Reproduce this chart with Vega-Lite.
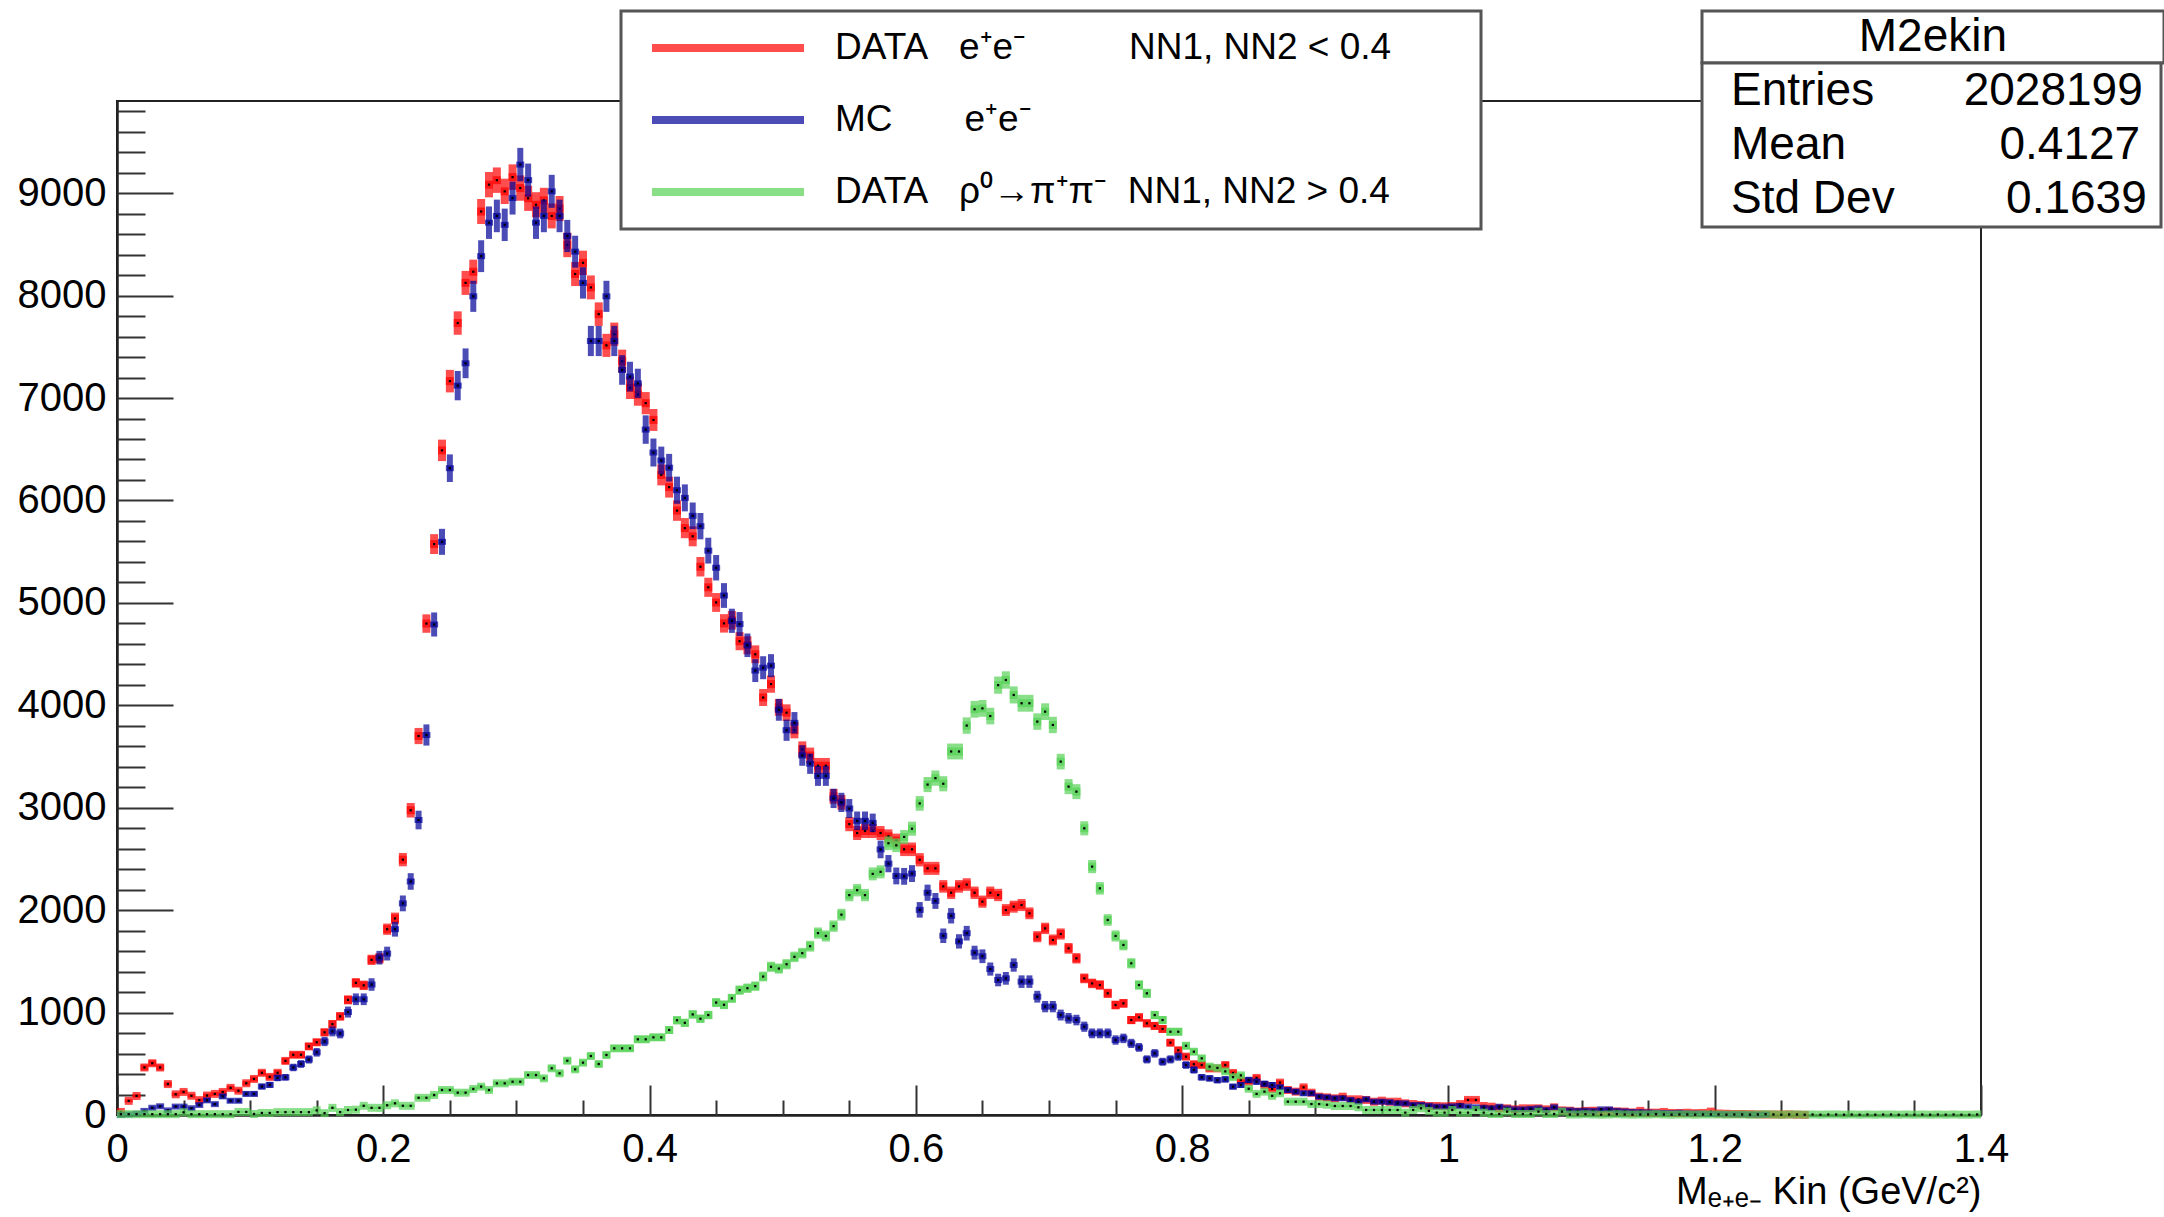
{
"$schema": "https://vega.github.io/schema/vega-lite/v6.json",
"width": 1864,
"height": 1014,
"autosize": {"type": "none"},
"padding": {"left": 117, "top": 101, "right": 183, "bottom": 102},
"background": "white",
"config": {"view": {"stroke": "#222222", "strokeWidth": 2}, "font": "Liberation Sans", "legend": {"strokeWidth": 3}},
"datasets": {
"R": [
{"x":0.0029,"v":30},{"x":0.0088,"v":138},{"x":0.0147,"v":186},{"x":0.0206,"v":464},{"x":0.0265,"v":506},{"x":0.0324,"v":464},{"x":0.0382,"v":302},{"x":0.0441,"v":202},{"x":0.0500,"v":225},{"x":0.0559,"v":188},{"x":0.0618,"v":145},{"x":0.0676,"v":190},{"x":0.0735,"v":206},{"x":0.0794,"v":225},{"x":0.0853,"v":265},{"x":0.0912,"v":237},{"x":0.0971,"v":310},
{"x":0.1029,"v":352},{"x":0.1088,"v":412},{"x":0.1147,"v":372},{"x":0.1206,"v":412},{"x":0.1265,"v":528},{"x":0.1324,"v":588},{"x":0.1382,"v":588},{"x":0.1441,"v":670},{"x":0.1500,"v":710},{"x":0.1559,"v":807},{"x":0.1618,"v":887},{"x":0.1676,"v":963},{"x":0.1735,"v":1124},{"x":0.1794,"v":1290},{"x":0.1853,"v":1266},{"x":0.1912,"v":1515},{"x":0.1971,"v":1530},
{"x":0.2029,"v":1814},{"x":0.2088,"v":1919},{"x":0.2147,"v":2493},{"x":0.2206,"v":2975},{"x":0.2265,"v":3700},{"x":0.2324,"v":4798},{"x":0.2382,"v":5574},{"x":0.2441,"v":6489},{"x":0.2500,"v":7165},{"x":0.2559,"v":7732},{"x":0.2618,"v":8124},{"x":0.2676,"v":8233},{"x":0.2735,"v":8821},{"x":0.2794,"v":9083},{"x":0.2853,"v":9127},{"x":0.2912,"v":9018},{"x":0.2971,"v":9157},
{"x":0.3029,"v":9050},{"x":0.3088,"v":8950},{"x":0.3147,"v":8887},{"x":0.3206,"v":8930},{"x":0.3265,"v":8778},{"x":0.3324,"v":8850},{"x":0.3382,"v":8495},{"x":0.3441,"v":8211},{"x":0.3500,"v":8320},{"x":0.3559,"v":8080},{"x":0.3618,"v":7819},{"x":0.3676,"v":7514},{"x":0.3735,"v":7623},{"x":0.3794,"v":7361},{"x":0.3853,"v":7100},{"x":0.3912,"v":7034},{"x":0.3971,"v":6950},
{"x":0.4029,"v":6786},{"x":0.4088,"v":6250},{"x":0.4147,"v":6130},{"x":0.4206,"v":5901},{"x":0.4265,"v":5730},{"x":0.4324,"v":5650},{"x":0.4382,"v":5353},{"x":0.4441,"v":5152},{"x":0.4500,"v":5004},{"x":0.4559,"v":4800},{"x":0.4618,"v":4830},{"x":0.4676,"v":4626},{"x":0.4735,"v":4586},{"x":0.4794,"v":4498},{"x":0.4853,"v":4076},{"x":0.4912,"v":4207},{"x":0.4971,"v":3980},
{"x":0.5029,"v":3928},{"x":0.5088,"v":3757},{"x":0.5147,"v":3570},{"x":0.5206,"v":3510},{"x":0.5265,"v":3410},{"x":0.5324,"v":3410},{"x":0.5382,"v":3111},{"x":0.5441,"v":3052},{"x":0.5500,"v":2840},{"x":0.5559,"v":2753},{"x":0.5618,"v":2773},{"x":0.5676,"v":2773},{"x":0.5735,"v":2753},{"x":0.5794,"v":2721},{"x":0.5853,"v":2680},{"x":0.5912,"v":2594},{"x":0.5971,"v":2594},
{"x":0.6029,"v":2492},{"x":0.6088,"v":2408},{"x":0.6147,"v":2408},{"x":0.6206,"v":2232},{"x":0.6265,"v":2170},{"x":0.6324,"v":2232},{"x":0.6382,"v":2250},{"x":0.6441,"v":2170},{"x":0.6500,"v":2083},{"x":0.6559,"v":2170},{"x":0.6618,"v":2148},{"x":0.6676,"v":2001},{"x":0.6735,"v":2034},{"x":0.6794,"v":2050},{"x":0.6853,"v":1969},{"x":0.6912,"v":1741},{"x":0.6971,"v":1822},
{"x":0.7029,"v":1709},{"x":0.7088,"v":1767},{"x":0.7147,"v":1627},{"x":0.7206,"v":1530},{"x":0.7265,"v":1334},{"x":0.7324,"v":1285},{"x":0.7382,"v":1269},{"x":0.7441,"v":1188},{"x":0.7500,"v":1074},{"x":0.7559,"v":1090},{"x":0.7618,"v":927},{"x":0.7676,"v":953},{"x":0.7735,"v":895},{"x":0.7794,"v":870},{"x":0.7853,"v":840},{"x":0.7912,"v":706},{"x":0.7971,"v":632},
{"x":0.8029,"v":570},{"x":0.8088,"v":496},{"x":0.8147,"v":488},{"x":0.8206,"v":455},{"x":0.8265,"v":455},{"x":0.8324,"v":488},{"x":0.8382,"v":410},{"x":0.8441,"v":342},{"x":0.8500,"v":325},{"x":0.8559,"v":362},{"x":0.8618,"v":293},{"x":0.8676,"v":255},{"x":0.8735,"v":316},{"x":0.8794,"v":244},{"x":0.8853,"v":228},{"x":0.8912,"v":270},{"x":0.8971,"v":218},
{"x":0.9029,"v":179},{"x":0.9088,"v":172},{"x":0.9147,"v":163},{"x":0.9206,"v":179},{"x":0.9265,"v":153},{"x":0.9324,"v":153},{"x":0.9382,"v":147},{"x":0.9441,"v":130},{"x":0.9500,"v":140},{"x":0.9559,"v":130},{"x":0.9618,"v":130},{"x":0.9676,"v":114},{"x":0.9735,"v":107},{"x":0.9794,"v":98},{"x":0.9853,"v":88},{"x":0.9912,"v":88},{"x":0.9971,"v":85},
{"x":1.0029,"v":88},{"x":1.0088,"v":107},{"x":1.0147,"v":147},{"x":1.0206,"v":147},{"x":1.0265,"v":88},{"x":1.0324,"v":81},{"x":1.0382,"v":65},{"x":1.0441,"v":65},{"x":1.0500,"v":55},{"x":1.0559,"v":65},{"x":1.0618,"v":65},{"x":1.0676,"v":65},{"x":1.0735,"v":55},{"x":1.0794,"v":75},{"x":1.0853,"v":45},{"x":1.0912,"v":42},{"x":1.0971,"v":33},
{"x":1.1029,"v":40},{"x":1.1088,"v":42},{"x":1.1147,"v":33},{"x":1.1206,"v":40},{"x":1.1265,"v":35},{"x":1.1324,"v":33},{"x":1.1382,"v":25},{"x":1.1441,"v":40},{"x":1.1500,"v":23},{"x":1.1559,"v":23},{"x":1.1618,"v":30},{"x":1.1676,"v":20},{"x":1.1735,"v":20},{"x":1.1794,"v":22},{"x":1.1853,"v":18},{"x":1.1912,"v":20},{"x":1.1971,"v":33},
{"x":1.2029,"v":15},{"x":1.2088,"v":12},{"x":1.2147,"v":10},{"x":1.2206,"v":10},{"x":1.2265,"v":8},{"x":1.2324,"v":6},{"x":1.2382,"v":5},{"x":1.2441,"v":5},{"x":1.2500,"v":4},{"x":1.2559,"v":6},{"x":1.2618,"v":3},{"x":1.2676,"v":2}
],
"B": [
{"x":0.0029,"v":0},{"x":0.0088,"v":5},{"x":0.0147,"v":12},{"x":0.0206,"v":40},{"x":0.0265,"v":70},{"x":0.0324,"v":85},{"x":0.0382,"v":45},{"x":0.0441,"v":82},{"x":0.0500,"v":82},{"x":0.0559,"v":66},{"x":0.0618,"v":98},{"x":0.0676,"v":143},{"x":0.0735,"v":106},{"x":0.0794,"v":182},{"x":0.0853,"v":139},{"x":0.0912,"v":139},{"x":0.0971,"v":206},
{"x":0.1029,"v":206},{"x":0.1088,"v":278},{"x":0.1147,"v":294},{"x":0.1206,"v":362},{"x":0.1265,"v":368},{"x":0.1324,"v":464},{"x":0.1382,"v":498},{"x":0.1441,"v":542},{"x":0.1500,"v":612},{"x":0.1559,"v":718},{"x":0.1618,"v":816},{"x":0.1676,"v":796},{"x":0.1735,"v":1005},{"x":0.1794,"v":1130},{"x":0.1853,"v":1130},{"x":0.1912,"v":1274},{"x":0.1971,"v":1536},
{"x":0.2029,"v":1576},{"x":0.2088,"v":1814},{"x":0.2147,"v":2066},{"x":0.2206,"v":2280},{"x":0.2265,"v":2880},{"x":0.2324,"v":3710},{"x":0.2382,"v":4789},{"x":0.2441,"v":5596},{"x":0.2500,"v":6315},{"x":0.2559,"v":7121},{"x":0.2618,"v":7339},{"x":0.2676,"v":7993},{"x":0.2735,"v":8385},{"x":0.2794,"v":8712},{"x":0.2853,"v":8778},{"x":0.2912,"v":8691},{"x":0.2971,"v":8952},
{"x":0.3029,"v":9279},{"x":0.3088,"v":9127},{"x":0.3147,"v":8712},{"x":0.3206,"v":8778},{"x":0.3265,"v":9018},{"x":0.3324,"v":8778},{"x":0.3382,"v":8582},{"x":0.3441,"v":8429},{"x":0.3500,"v":8124},{"x":0.3559,"v":7557},{"x":0.3618,"v":7557},{"x":0.3676,"v":7993},{"x":0.3735,"v":7557},{"x":0.3794,"v":7274},{"x":0.3853,"v":7209},{"x":0.3912,"v":7143},{"x":0.3971,"v":6692},
{"x":0.4029,"v":6468},{"x":0.4088,"v":6390},{"x":0.4147,"v":6320},{"x":0.4206,"v":6100},{"x":0.4265,"v":6025},{"x":0.4324,"v":5850},{"x":0.4382,"v":5749},{"x":0.4441,"v":5510},{"x":0.4500,"v":5343},{"x":0.4559,"v":5072},{"x":0.4618,"v":4825},{"x":0.4676,"v":4793},{"x":0.4735,"v":4586},{"x":0.4794,"v":4339},{"x":0.4853,"v":4367},{"x":0.4912,"v":4387},{"x":0.4971,"v":3956},
{"x":0.5029,"v":3757},{"x":0.5088,"v":3829},{"x":0.5147,"v":3510},{"x":0.5206,"v":3430},{"x":0.5265,"v":3311},{"x":0.5324,"v":3311},{"x":0.5382,"v":3091},{"x":0.5441,"v":3052},{"x":0.5500,"v":2992},{"x":0.5559,"v":2872},{"x":0.5618,"v":2872},{"x":0.5676,"v":2852},{"x":0.5735,"v":2593},{"x":0.5794,"v":2454},{"x":0.5853,"v":2334},{"x":0.5912,"v":2330},{"x":0.5971,"v":2357},
{"x":0.6029,"v":2003},{"x":0.6088,"v":2170},{"x":0.6147,"v":2090},{"x":0.6206,"v":1750},{"x":0.6265,"v":1945},{"x":0.6324,"v":1695},{"x":0.6382,"v":1775},{"x":0.6441,"v":1585},{"x":0.6500,"v":1550},{"x":0.6559,"v":1425},{"x":0.6618,"v":1318},{"x":0.6676,"v":1334},{"x":0.6735,"v":1464},{"x":0.6794,"v":1302},{"x":0.6853,"v":1302},{"x":0.6912,"v":1155},{"x":0.6971,"v":1058},
{"x":0.7029,"v":1058},{"x":0.7088,"v":976},{"x":0.7147,"v":944},{"x":0.7206,"v":927},{"x":0.7265,"v":862},{"x":0.7324,"v":797},{"x":0.7382,"v":797},{"x":0.7441,"v":797},{"x":0.7500,"v":732},{"x":0.7559,"v":748},{"x":0.7618,"v":699},{"x":0.7676,"v":660},{"x":0.7735,"v":543},{"x":0.7794,"v":602},{"x":0.7853,"v":520},{"x":0.7912,"v":543},{"x":0.7971,"v":570},
{"x":0.8029,"v":488},{"x":0.8088,"v":440},{"x":0.8147,"v":368},{"x":0.8206,"v":358},{"x":0.8265,"v":340},{"x":0.8324,"v":348},{"x":0.8382,"v":277},{"x":0.8441,"v":293},{"x":0.8500,"v":342},{"x":0.8559,"v":325},{"x":0.8618,"v":305},{"x":0.8676,"v":293},{"x":0.8735,"v":270},{"x":0.8794,"v":244},{"x":0.8853,"v":228},{"x":0.8912,"v":212},{"x":0.8971,"v":212},
{"x":0.9029,"v":179},{"x":0.9088,"v":172},{"x":0.9147,"v":163},{"x":0.9206,"v":163},{"x":0.9265,"v":147},{"x":0.9324,"v":130},{"x":0.9382,"v":153},{"x":0.9441,"v":130},{"x":0.9500,"v":130},{"x":0.9559,"v":125},{"x":0.9618,"v":114},{"x":0.9676,"v":114},{"x":0.9735,"v":98},{"x":0.9794,"v":98},{"x":0.9853,"v":90},{"x":0.9912,"v":81},{"x":0.9971,"v":81},
{"x":1.0029,"v":85},{"x":1.0088,"v":88},{"x":1.0147,"v":81},{"x":1.0206,"v":75},{"x":1.0265,"v":70},{"x":1.0324,"v":65},{"x":1.0382,"v":81},{"x":1.0441,"v":65},{"x":1.0500,"v":55},{"x":1.0559,"v":55},{"x":1.0618,"v":60},{"x":1.0676,"v":65},{"x":1.0735,"v":50},{"x":1.0794,"v":75},{"x":1.0853,"v":45},{"x":1.0912,"v":45},{"x":1.0971,"v":40},
{"x":1.1029,"v":42},{"x":1.1088,"v":40},{"x":1.1147,"v":55},{"x":1.1206,"v":55},{"x":1.1265,"v":40},{"x":1.1324,"v":35},{"x":1.1382,"v":30},{"x":1.1441,"v":28},{"x":1.1500,"v":25},{"x":1.1559,"v":22},{"x":1.1618,"v":20},{"x":1.1676,"v":18},{"x":1.1735,"v":22},{"x":1.1794,"v":15},{"x":1.1853,"v":14},{"x":1.1912,"v":12},{"x":1.1971,"v":10},
{"x":1.2029,"v":9},{"x":1.2088,"v":8},{"x":1.2147,"v":7},{"x":1.2206,"v":6},{"x":1.2265,"v":5},{"x":1.2324,"v":4},{"x":1.2382,"v":3}
],
"G": [
{"x":0.0029,"v":8},{"x":0.0088,"v":8},{"x":0.0147,"v":8},{"x":0.0206,"v":8},{"x":0.0265,"v":8},{"x":0.0324,"v":8},{"x":0.0382,"v":8},{"x":0.0441,"v":8},{"x":0.0500,"v":26},{"x":0.0559,"v":8},{"x":0.0618,"v":8},{"x":0.0676,"v":8},{"x":0.0735,"v":8},{"x":0.0794,"v":8},{"x":0.0853,"v":8},{"x":0.0912,"v":30},{"x":0.0971,"v":30},
{"x":0.1029,"v":10},{"x":0.1088,"v":20},{"x":0.1147,"v":20},{"x":0.1206,"v":28},{"x":0.1265,"v":28},{"x":0.1324,"v":28},{"x":0.1382,"v":28},{"x":0.1441,"v":28},{"x":0.1500,"v":45},{"x":0.1559,"v":18},{"x":0.1618,"v":70},{"x":0.1676,"v":28},{"x":0.1735,"v":49},{"x":0.1794,"v":52},{"x":0.1853,"v":90},{"x":0.1912,"v":70},{"x":0.1971,"v":70},
{"x":0.2029,"v":95},{"x":0.2088,"v":114},{"x":0.2147,"v":90},{"x":0.2206,"v":90},{"x":0.2265,"v":168},{"x":0.2324,"v":168},{"x":0.2382,"v":195},{"x":0.2441,"v":244},{"x":0.2500,"v":244},{"x":0.2559,"v":218},{"x":0.2618,"v":218},{"x":0.2676,"v":254},{"x":0.2735,"v":277},{"x":0.2794,"v":244},{"x":0.2853,"v":309},{"x":0.2912,"v":309},{"x":0.2971,"v":325},
{"x":0.3029,"v":325},{"x":0.3088,"v":390},{"x":0.3147,"v":390},{"x":0.3206,"v":358},{"x":0.3265,"v":456},{"x":0.3324,"v":407},{"x":0.3382,"v":530},{"x":0.3441,"v":446},{"x":0.3500,"v":511},{"x":0.3559,"v":576},{"x":0.3618,"v":498},{"x":0.3676,"v":586},{"x":0.3735,"v":651},{"x":0.3794,"v":651},{"x":0.3853,"v":651},{"x":0.3912,"v":739},{"x":0.3971,"v":739},
{"x":0.4029,"v":758},{"x":0.4088,"v":758},{"x":0.4147,"v":830},{"x":0.4206,"v":925},{"x":0.4265,"v":900},{"x":0.4324,"v":982},{"x":0.4382,"v":940},{"x":0.4441,"v":976},{"x":0.4500,"v":1098},{"x":0.4559,"v":1076},{"x":0.4618,"v":1139},{"x":0.4676,"v":1219},{"x":0.4735,"v":1238},{"x":0.4794,"v":1258},{"x":0.4853,"v":1352},{"x":0.4912,"v":1447},{"x":0.4971,"v":1430},
{"x":0.5029,"v":1472},{"x":0.5088,"v":1544},{"x":0.5147,"v":1580},{"x":0.5206,"v":1648},{"x":0.5265,"v":1776},{"x":0.5324,"v":1748},{"x":0.5382,"v":1844},{"x":0.5441,"v":1956},{"x":0.5500,"v":2147},{"x":0.5559,"v":2195},{"x":0.5618,"v":2147},{"x":0.5676,"v":2354},{"x":0.5735,"v":2374},{"x":0.5794,"v":2653},{"x":0.5853,"v":2633},{"x":0.5912,"v":2715},{"x":0.5971,"v":2795},
{"x":0.6029,"v":3042},{"x":0.6088,"v":3226},{"x":0.6147,"v":3289},{"x":0.6206,"v":3234},{"x":0.6265,"v":3549},{"x":0.6324,"v":3549},{"x":0.6382,"v":3802},{"x":0.6441,"v":3961},{"x":0.6500,"v":3970},{"x":0.6559,"v":3895},{"x":0.6618,"v":4197},{"x":0.6676,"v":4247},{"x":0.6735,"v":4101},{"x":0.6794,"v":4020},{"x":0.6853,"v":4020},{"x":0.6912,"v":3841},{"x":0.6971,"v":3938},
{"x":0.7029,"v":3808},{"x":0.7088,"v":3450},{"x":0.7147,"v":3206},{"x":0.7206,"v":3157},{"x":0.7265,"v":2799},{"x":0.7324,"v":2425},{"x":0.7382,"v":2213},{"x":0.7441,"v":1904},{"x":0.7500,"v":1748},{"x":0.7559,"v":1660},{"x":0.7618,"v":1481},{"x":0.7676,"v":1269},{"x":0.7735,"v":1188},{"x":0.7794,"v":976},{"x":0.7853,"v":927},{"x":0.7912,"v":813},{"x":0.7971,"v":813},
{"x":0.8029,"v":676},{"x":0.8088,"v":618},{"x":0.8147,"v":553},{"x":0.8206,"v":472},{"x":0.8265,"v":460},{"x":0.8324,"v":426},{"x":0.8382,"v":370},{"x":0.8441,"v":387},{"x":0.8500,"v":256},{"x":0.8559,"v":206},{"x":0.8618,"v":228},{"x":0.8676,"v":187},{"x":0.8735,"v":212},{"x":0.8794,"v":130},{"x":0.8853,"v":130},{"x":0.8912,"v":130},{"x":0.8971,"v":107},
{"x":0.9029,"v":107},{"x":0.9088,"v":100},{"x":0.9147,"v":88},{"x":0.9206,"v":88},{"x":0.9265,"v":88},{"x":0.9324,"v":75},{"x":0.9382,"v":49},{"x":0.9441,"v":49},{"x":0.9500,"v":49},{"x":0.9559,"v":49},{"x":0.9618,"v":49},{"x":0.9676,"v":23},{"x":0.9735,"v":49},{"x":0.9794,"v":65},{"x":0.9853,"v":40},{"x":0.9912,"v":23},{"x":0.9971,"v":23},
{"x":1.0029,"v":49},{"x":1.0088,"v":23},{"x":1.0147,"v":23},{"x":1.0206,"v":49},{"x":1.0265,"v":23},{"x":1.0324,"v":10},{"x":1.0382,"v":10},{"x":1.0441,"v":33},{"x":1.0500,"v":10},{"x":1.0559,"v":10},{"x":1.0618,"v":10},{"x":1.0676,"v":33},{"x":1.0735,"v":10},{"x":1.0794,"v":10},{"x":1.0853,"v":33},{"x":1.0912,"v":5},{"x":1.0971,"v":5},
{"x":1.1029,"v":8},{"x":1.1088,"v":5},{"x":1.1147,"v":3},{"x":1.1206,"v":5},{"x":1.1265,"v":8},{"x":1.1324,"v":5},{"x":1.1382,"v":3},{"x":1.1441,"v":5},{"x":1.1500,"v":5},{"x":1.1559,"v":8},{"x":1.1618,"v":5},{"x":1.1676,"v":3},{"x":1.1735,"v":5},{"x":1.1794,"v":5},{"x":1.1853,"v":3},{"x":1.1912,"v":5},{"x":1.1971,"v":5},
{"x":1.2029,"v":5},{"x":1.2088,"v":3},{"x":1.2147,"v":5},{"x":1.2206,"v":5},{"x":1.2265,"v":3},{"x":1.2324,"v":5},{"x":1.2382,"v":8},{"x":1.2441,"v":5},{"x":1.2500,"v":3},{"x":1.2559,"v":5},{"x":1.2618,"v":5},{"x":1.2676,"v":3},{"x":1.2735,"v":5},{"x":1.2794,"v":3},{"x":1.2853,"v":5},{"x":1.2912,"v":5},{"x":1.2971,"v":3},
{"x":1.3029,"v":5},{"x":1.3088,"v":3},{"x":1.3147,"v":5},{"x":1.3206,"v":3},{"x":1.3265,"v":5},{"x":1.3324,"v":5},{"x":1.3382,"v":3},{"x":1.3441,"v":5},{"x":1.3500,"v":3},{"x":1.3559,"v":5},{"x":1.3618,"v":3},{"x":1.3676,"v":5},{"x":1.3735,"v":3},{"x":1.3794,"v":5},{"x":1.3853,"v":3},{"x":1.3912,"v":3},{"x":1.3971,"v":5}
]
},
"resolve": {"scale": {"size": "independent"}, "axis": {"x": "independent", "y": "independent"}},
"encoding": {
  "x": {"field": "x", "type": "quantitative", "scale": {"domain": [0, 1.4], "nice": false, "zero": false}, "axis": null},
  "y": {"field": "v", "type": "quantitative", "scale": {"domain": [0, 9900], "nice": false, "zero": true}, "axis": null}
},
"layer": [
{
  "data": {"name": "R"},
  "mark": {"type": "tick", "orient": "horizontal", "size": 8, "thickness": 8},
  "encoding": {
    "x": {"field": "x", "type": "quantitative", "scale": {"domain": [0, 1.4], "nice": false, "zero": false},
      "axis": {"orient": "bottom", "values": [0, 0.2, 0.4, 0.6, 0.8, 1, 1.2, 1.4], "format": "~g", "ticks": false, "tickSize": 0, "domain": true, "domainColor": "#222222", "domainWidth": 2.5, "grid": false,
        "labelFont": "Liberation Sans", "labelFontSize": 40, "labelColor": "#000000", "labelPadding": 14, "labelFlush": false, "labelOverlap": false,
        "title": "M\u2091\u208a\u2091\u208b Kin (GeV/c\u00b2)", "titleFont": "Liberation Sans", "titleFontSize": 38, "titleFontWeight": "normal", "titleColor": "#000000", "titleAnchor": "end", "titlePadding": 4}},
    "y": {"field": "v", "type": "quantitative", "scale": {"domain": [0, 9900], "nice": false, "zero": true},
      "axis": {"orient": "left", "values": [0, 1000, 2000, 3000, 4000, 5000, 6000, 7000, 8000, 9000], "format": "d", "ticks": false, "tickSize": 0, "domain": true, "domainColor": "#222222", "domainWidth": 2.5, "grid": false,
        "labelFont": "Liberation Sans", "labelFontSize": 40, "labelColor": "#000000", "labelPadding": 11, "labelFlush": false, "labelOverlap": false, "title": null}},
    "color": {"datum": "DATA\u00a0\u00a0\u00a0e\u207ae\u207b\u00a0\u00a0\u00a0\u00a0\u00a0\u00a0\u00a0\u00a0\u00a0\u00a0NN1, NN2 < 0.4\u00a0\u00a0\u00a0\u00a0\u00a0\u00a0\u00a0\u200b", "type": "nominal",
      "scale": {"domain": ["DATA\u00a0\u00a0\u00a0e\u207ae\u207b\u00a0\u00a0\u00a0\u00a0\u00a0\u00a0\u00a0\u00a0\u00a0\u00a0NN1, NN2 < 0.4\u00a0\u00a0\u00a0\u00a0\u00a0\u00a0\u00a0\u200b", "MC\u00a0\u00a0\u00a0\u00a0\u00a0\u00a0\u00a0e\u207ae\u207b", "DATA\u00a0\u00a0\u00a0\u03c1\u2070\u2192\u03c0\u207a\u03c0\u207b\u00a0\u00a0NN1, NN2 > 0.4\u00a0\u00a0\u00a0\u00a0\u00a0\u00a0\u00a0\u200b"], "range": ["#ff0000", "#000099", "#55d155"]},
      "legend": {"orient": "none", "legendX": 504, "legendY": -90, "title": null, "symbolType": "M-1,-0.0526H1V0.0526H-1Z", "symbolSize": 23104, "symbolOffset": 14, "symbolStrokeWidth": 0, "symbolOpacity": 1,
        "labelFont": "Liberation Sans", "labelFontSize": 37, "labelColor": "#000000", "labelLimit": 1500, "labelOffset": 31, "padding": 17, "rowPadding": 32, "clipHeight": 40, "strokeColor": "#555555", "fillColor": "#ffffff"}},
    "strokeDash": {"datum": "\u200b\u00a0\u00a0\u00a0\u00a0\u00a0\u00a0\u00a0\u00a0\u00a0\u00a0M2ekin\u00a0\u00a0\u00a0\u00a0\u00a0\u00a0\u00a0\u00a0\u00a0\u00a0\u00a0\u00a0\u200b", "type": "nominal",
      "scale": {"domain": ["\u200b\u00a0\u00a0\u00a0\u00a0\u00a0\u00a0\u00a0\u00a0\u00a0\u00a0M2ekin\u00a0\u00a0\u00a0\u00a0\u00a0\u00a0\u00a0\u00a0\u00a0\u00a0\u00a0\u00a0\u200b"], "range": [[1, 0]]},
      "legend": {"orient": "none", "legendX": 1585, "legendY": -90, "title": null, "symbolType": "square", "symbolSize": 100, "symbolOpacity": 0, "symbolStrokeWidth": 0, "symbolFillColor": "transparent", "symbolStrokeColor": "transparent", "labelOffset": -20,
        "labelFont": "Liberation Sans", "labelFontSize": 46, "labelColor": "#000000", "labelLimit": 1500, "padding": 3, "clipHeight": 46, "strokeColor": "#555555", "fillColor": "#ffffff"}}
  }
},
{
  "data": {"name": "R"},
  "mark": {"type": "tick", "orient": "vertical", "thickness": 8},
  "encoding": {
    "x": {"field": "x", "type": "quantitative", "scale": {"domain": [0, 1.4], "nice": false, "zero": false},
      "axis": {"orient": "bottom", "values": [0, 0.2, 0.4, 0.6, 0.8, 1, 1.2, 1.4], "labels": false, "domain": false, "grid": false, "ticks": true, "tickSize": -30, "tickWidth": 2, "tickColor": "#333333", "title": null}},
    "y": {"field": "v", "type": "quantitative", "scale": {"domain": [0, 9900], "nice": false, "zero": true},
      "axis": {"orient": "left", "values": [0, 1000, 2000, 3000, 4000, 5000, 6000, 7000, 8000, 9000], "labels": false, "domain": false, "grid": false, "ticks": true, "tickSize": -56, "tickWidth": 2, "tickColor": "#333333", "title": null}},
    "color": {"datum": "DATA\u00a0\u00a0\u00a0e\u207ae\u207b\u00a0\u00a0\u00a0\u00a0\u00a0\u00a0\u00a0\u00a0\u00a0\u00a0NN1, NN2 < 0.4\u00a0\u00a0\u00a0\u00a0\u00a0\u00a0\u00a0\u200b", "type": "nominal"},
    "size": {"field": "v", "type": "quantitative", "scale": {"type": "sqrt", "domain": [0, 9900], "range": [0, 26.5], "zero": true}, "legend": null}
  }
},
{
  "data": {"name": "R"},
  "mark": {"type": "point", "size": 5, "filled": true, "color": "#000000", "opacity": 1, "strokeWidth": 0},
  "encoding": {
    "x": {"field": "x", "type": "quantitative", "scale": {"domain": [0, 1.4], "nice": false, "zero": false},
      "axis": {"orient": "bottom", "values": [0.05, 0.1, 0.15, 0.25, 0.3, 0.35, 0.45, 0.5, 0.55, 0.65, 0.7, 0.75, 0.85, 0.9, 0.95, 1.05, 1.1, 1.15, 1.25, 1.3, 1.35], "labels": false, "domain": false, "grid": false, "ticks": true, "tickSize": -15, "tickWidth": 2, "tickColor": "#333333", "title": null}},
    "y": {"field": "v", "type": "quantitative", "scale": {"domain": [0, 9900], "nice": false, "zero": true},
      "axis": {"orient": "left", "values": [200, 400, 600, 800, 1200, 1400, 1600, 1800, 2200, 2400, 2600, 2800, 3200, 3400, 3600, 3800, 4200, 4400, 4600, 4800, 5200, 5400, 5600, 5800, 6200, 6400, 6600, 6800, 7200, 7400, 7600, 7800, 8200, 8400, 8600, 8800, 9200, 9400, 9600, 9800], "labels": false, "domain": false, "grid": false, "ticks": true, "tickSize": -28, "tickWidth": 2, "tickColor": "#333333", "title": null}},
    "shape": {"datum": "\u200bEntries\u00a0\u00a0\u00a0\u00a0\u00a0\u00a0\u00a02028199\u00a0\u200b", "type": "nominal",
      "scale": {"domain": ["\u200bEntries\u00a0\u00a0\u00a0\u00a0\u00a0\u00a0\u00a02028199\u00a0\u200b", "\u200bMean\u00a0\u00a0\u00a0\u00a0\u00a0\u00a0\u00a0\u00a0\u00a0\u00a0\u00a0\u00a00.4127", "\u200bStd Dev\u00a0\u00a0\u00a0\u00a0\u00a0\u00a0\u00a0\u00a0\u20090.1639"], "range": ["square", "square", "square"]},
      "legend": {"orient": "none", "legendX": 1585, "legendY": -38, "title": null, "symbolSize": 100, "symbolOpacity": 0, "symbolStrokeWidth": 0, "symbolFillColor": "transparent", "symbolStrokeColor": "transparent", "labelOffset": -22,
        "labelFont": "Liberation Sans", "labelFontSize": 46, "labelColor": "#000000", "labelLimit": 1500, "padding": 5, "rowPadding": 8, "clipHeight": 46, "strokeColor": "#555555", "fillColor": "#ffffff"}}
  }
},
{
  "data": {"name": "B"},
  "mark": {"type": "tick", "orient": "horizontal", "size": 8, "thickness": 6},
  "encoding": {
    "color": {"datum": "MC\u00a0\u00a0\u00a0\u00a0\u00a0\u00a0\u00a0e\u207ae\u207b", "type": "nominal"}
  }
},
{
  "data": {"name": "B"},
  "mark": {"type": "tick", "orient": "vertical", "thickness": 6},
  "encoding": {
    "color": {"datum": "MC\u00a0\u00a0\u00a0\u00a0\u00a0\u00a0\u00a0e\u207ae\u207b", "type": "nominal"},
    "size": {"field": "v", "type": "quantitative", "scale": {"type": "sqrt", "domain": [0, 9900], "range": [0, 34.6], "zero": true}, "legend": null}
  }
},
{
  "data": {"name": "B"},
  "mark": {"type": "point", "size": 5, "filled": true, "color": "#000000", "opacity": 1, "strokeWidth": 0},
  "encoding": {
    "shape": {"datum": "\u200bMean\u00a0\u00a0\u00a0\u00a0\u00a0\u00a0\u00a0\u00a0\u00a0\u00a0\u00a0\u00a00.4127", "type": "nominal"}
  }
},
{
  "data": {"name": "G"},
  "mark": {"type": "tick", "orient": "horizontal", "size": 8, "thickness": 8},
  "encoding": {
    "color": {"datum": "DATA\u00a0\u00a0\u00a0\u03c1\u2070\u2192\u03c0\u207a\u03c0\u207b\u00a0\u00a0NN1, NN2 > 0.4\u00a0\u00a0\u00a0\u00a0\u00a0\u00a0\u00a0\u200b", "type": "nominal"}
  }
},
{
  "data": {"name": "G"},
  "mark": {"type": "tick", "orient": "vertical", "thickness": 8},
  "encoding": {
    "color": {"datum": "DATA\u00a0\u00a0\u00a0\u03c1\u2070\u2192\u03c0\u207a\u03c0\u207b\u00a0\u00a0NN1, NN2 > 0.4\u00a0\u00a0\u00a0\u00a0\u00a0\u00a0\u00a0\u200b", "type": "nominal"},
    "size": {"field": "v", "type": "quantitative", "scale": {"type": "sqrt", "domain": [0, 9900], "range": [0, 26.5], "zero": true}, "legend": null}
  }
},
{
  "data": {"name": "G"},
  "mark": {"type": "point", "size": 5, "filled": true, "color": "#000000", "opacity": 1, "strokeWidth": 0},
  "encoding": {
    "shape": {"datum": "\u200bStd Dev\u00a0\u00a0\u00a0\u00a0\u00a0\u00a0\u00a0\u00a0\u20090.1639", "type": "nominal"}
  }
}
]
}
